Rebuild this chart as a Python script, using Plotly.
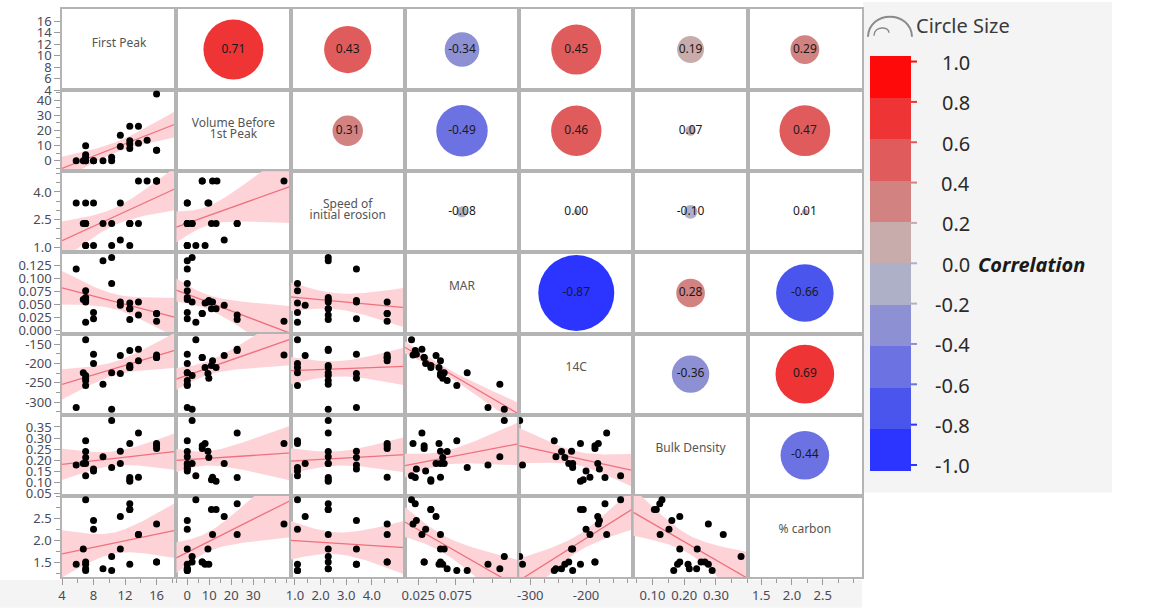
import numpy as np
import plotly.graph_objects as go
from plotly.subplots import make_subplots

# ---- data: one row per core sample --------------------------------------
first_peak = [5.8, 6.7, 7.0, 7.0, 7.0, 7.0, 7.0, 8.0, 8.0, 9.2, 10.3, 10.3,
              11.4, 11.4, 12.6, 12.6, 12.6, 12.6, 13.7, 13.7, 14.8, 16.0, 16.0, 16.0]
volume_before = [0.0, 0.0, 3.9, 2.2, 9.8, 0.0, 0.0, 0.0, 0.0, 0.0, 2.2, 0.0,
                 16.8, 9.4, 22.7, 13.1, 8.1, 11.0, 22.7, 11.5, 13.5, 44.0, 6.8, 6.8]
speed_erosion = [3.4, 2.3, 1.1, 2.3, 3.4, 2.3, 1.1, 3.4, 1.1, 2.3, 2.3, 1.1,
                 1.4, 3.4, 2.3, 2.3, 1.1, 2.3, 2.3, 4.6, 4.6, 4.6, 4.6, 4.6]
mar = [0.119, 0.060, 0.016, 0.055, 0.058, 0.064, 0.077, 0.0225, 0.035, 0.135, 0.141, 0.091,
       0.049, 0.055, 0.021, 0.042, 0.053, 0.042, 0.030, 0.055, np.nan, 0.018, 0.033, 0.033]
c14 = [-314, -224, -138, -231, -238, -244, -257, -176, -200, -254, -319, -224,
       -179, -226, -166, -210, -210, -205, -163, -193, np.nan, -178, -184, -184]
bulk_density = [0.179, 0.186, 0.130, 0.186, 0.212, 0.239, 0.288, 0.161, 0.152, 0.216, 0.379, 0.167,
                0.186, 0.241, 0.123, 0.106, 0.276, 0.112, 0.323, 0.124, np.nan, 0.276, 0.265, 0.253]
pct_carbon = [1.45, 1.80, 2.92, 1.50, 1.45, 1.35, 1.31, 2.45, 2.25, 1.35, 1.63, 1.31,
              2.54, 1.80, 2.83, 2.70, 1.45, 2.70, 2.13, 2.13, np.nan, 2.37, 1.50, 1.50]

variables = [["First Peak"], ["Volume Before", "1st Peak"], ["Speed of", "initial erosion"],
             ["MAR"], ["14C"], ["Bulk Density"], ["% carbon"]]
columns = [first_peak, volume_before, speed_erosion, mar, c14, bulk_density, pct_carbon]

# pairwise correlations shown above the diagonal (row by row)
corr_upper = [
    [0.71, 0.43, -0.34, 0.45, 0.19, 0.29],
    [0.31, -0.49, 0.46, 0.07, 0.47],
    [-0.08, 0.00, -0.10, 0.01],
    [-0.87, 0.28, -0.66],
    [-0.36, 0.69],
    [-0.44],
]

# ---- axis settings ----------------------------------------------------------
x_ranges = [[4.0, 18.5], [-5, 47], [0.83, 5.29], [0.007, 0.161],
            [-320, -115], [0.04, 0.40], [1.28, 3.14]]
y_ranges = [[4.0, 18.1], [-7, 46.5], [0.73, 5.12], [-0.006, 0.151],
            [-333, -122], [0.04, 0.405], [1.16, 3.01]]

x_tickvals = [[4, 8, 12, 16], [0, 10, 20, 30], [1, 2, 3, 4], [0.025, 0.075],
              [-300, -200], [0.1, 0.2, 0.3], [1.5, 2.0, 2.5]]
x_ticktext = [["4", "8", "12", "16"], ["0", "10", "20", "30"], ["1.0", "2.0", "3.0", "4.0"],
              ["0.025", "0.075"], ["-300", "-200"], ["0.10", "0.20", "0.30"], ["1.5", "2.0", "2.5"]]
x_minor = [2, 5, 0.5, 0.025, 25, 0.05, 0.25]

y_tickvals = [[4, 6, 8, 10, 12, 14, 16], [0, 10, 20, 30, 40], [1.0, 2.5, 4.0],
              [0, 0.025, 0.05, 0.075, 0.1, 0.125], [-300, -250, -200, -150],
              [0.05, 0.1, 0.15, 0.2, 0.25, 0.3, 0.35], [1.5, 2.0, 2.5]]
y_ticktext = [["4", "6", "8", "10", "12", "14", "16"], ["0", "10", "20", "30", "40"],
              ["1.0", "2.5", "4.0"], ["0.000", "0.025", "0.050", "0.075", "0.100", "0.125"],
              ["-300", "-250", "-200", "-150"],
              ["0.05", "0.10", "0.15", "0.20", "0.25", "0.30", "0.35"], ["1.5", "2.0", "2.5"]]
y_minor = [None, 5, 0.5, None, 25, None, 0.25]

# discrete correlation colour bins, from -1 to 1
bin_colors = ["#2b35ff", "#4a55ee", "#6d72e2", "#8d90d3", "#aeb0c8",
              "#c8acac", "#d38282", "#e05c5c", "#ee3434", "#ff0a0a"]
colorscale = []
for i, col in enumerate(bin_colors):
    colorscale.append([i / 10, col])
    colorscale.append([(i + 1) / 10, col])
legend_ticks = [1.0, 0.8, 0.6, 0.4, 0.2, 0.0, -0.2, -0.4, -0.6, -0.8, -1.0]

# circle diameter (px) against |r|
size_abs = [0.0, 0.08, 0.19, 0.30, 0.45, 0.70, 0.87, 1.0]
size_px = [5, 11, 27, 29, 50, 59, 76, 82]

FONT = "Noto Sans"
N = 7
W, H = 1150, 611
L, R, T, B = 62, 288, 7, 31
PW, PH = W - L - R, H - T - B
CELL_H = PH / N

# colour legend geometry (px)
BAR_X0, BAR_X1 = 870, 911
BAR_MID, BAR_HALF = 263.5, 203.5


def px_x(px):
    return (px - L) / PW


def px_y(py):
    return 1 - (py - T) / PH


def t975(df):
    z = 1.959964
    return z + (z ** 3 + z) / (4 * df) + (5 * z ** 5 + 16 * z ** 3 + 3 * z) / (96 * df ** 2)


fig = make_subplots(rows=N, cols=N, horizontal_spacing=0, vertical_spacing=0)

for r in range(N):
    for c in range(N):
        if r > c:
            x = np.asarray(columns[c], float)
            y = np.asarray(columns[r], float)
            ok = np.isfinite(x) & np.isfinite(y)
            x, y = x[ok], y[ok]
            n = len(x)
            b1, b0 = np.polyfit(x, y, 1)
            resid = y - (b0 + b1 * x)
            s = np.sqrt(np.sum(resid ** 2) / (n - 2))
            sxx = np.sum((x - x.mean()) ** 2)
            xs = np.linspace(x_ranges[c][0], x_ranges[c][1], 80)
            yh = b0 + b1 * xs
            half = t975(n - 2) * s * np.sqrt(1 / n + (xs - x.mean()) ** 2 / sxx)
            fig.add_trace(go.Scatter(
                x=np.concatenate([xs, xs[::-1]]),
                y=np.concatenate([yh + half, (yh - half)[::-1]]),
                fill="toself", fillcolor="#fdd3d8", line=dict(width=0),
                mode="lines", hoverinfo="skip", showlegend=False), row=r + 1, col=c + 1)
            fig.add_trace(go.Scatter(
                x=xs, y=yh, mode="lines", line=dict(color="#f0707c", width=1.3),
                hoverinfo="skip", showlegend=False), row=r + 1, col=c + 1)
            fig.add_trace(go.Scatter(
                x=x, y=y, mode="markers",
                marker=dict(color="black", size=7, line=dict(width=0)),
                showlegend=False), row=r + 1, col=c + 1)
        elif r < c:
            val = corr_upper[r][c - r - 1]
            fig.add_trace(go.Scatter(
                x=[0.5], y=[0.5], mode="markers+text",
                text=[f"{val:.2f}"], textposition="middle center",
                textfont=dict(family=FONT, size=12, color="#1a1a1a"),
                marker=dict(size=float(np.interp(abs(val), size_abs, size_px)),
                            color=[val], cmin=-1, cmax=1, colorscale=colorscale,
                            line=dict(width=0),
                            showscale=(r == 0 and c == 1),
                            colorbar=dict(
                                x=px_x(BAR_X0), xanchor="left", xpad=0,
                                y=px_y(BAR_MID), yanchor="middle", ypad=0,
                                lenmode="pixels", len=2 * BAR_HALF + 8,
                                thickness=BAR_X1 - BAR_X0,
                                outlinewidth=0, ticks="", showticklabels=False,
                            )),
                showlegend=False, hoverinfo="skip"), row=r + 1, col=c + 1)
        else:
            # diagonal: variable name, slightly above centre for one-line names
            lines = variables[r]
            y0, y1 = y_ranges[r]
            x0, x1 = x_ranges[c]
            per_px = (y1 - y0) / CELL_H
            if len(lines) == 1:
                ys = [y0 + (y1 - y0) / 2 + 6 * per_px]
            else:
                mid = y0 + (y1 - y0) / 2 + 1 * per_px
                ys = [mid + 5.5 * per_px, mid - 5.5 * per_px]
            fig.add_trace(go.Scatter(
                x=[(x0 + x1) / 2] * len(lines), y=ys, mode="text", text=lines,
                textposition="middle center",
                textfont=dict(family=FONT, size=12, color="#555555"),
                hoverinfo="skip", showlegend=False), row=r + 1, col=c + 1)

        # axes
        xkw = dict(showline=True, mirror=True, linecolor="#b4b4b4", linewidth=1.5,
                   showgrid=False, zeroline=False, fixedrange=True)
        ykw = dict(xkw)
        if r < c:
            xkw.update(range=[0, 1], showticklabels=False, ticks="")
            ykw.update(range=[0, 1], showticklabels=False, ticks="")
        else:
            xkw.update(range=x_ranges[c])
            ykw.update(range=y_ranges[r])
            if r == N - 1:
                xkw.update(tickmode="array", tickvals=x_tickvals[c], ticktext=x_ticktext[c],
                           ticks="outside", ticklen=6, tickcolor="#9a9a9a",
                           tickfont=dict(family=FONT, size=13, color="#4a4a58"),
                           minor=dict(tickmode="linear", tick0=0, dtick=x_minor[c],
                                      ticks="outside", ticklen=4, tickcolor="#9a9a9a"))
            else:
                xkw.update(showticklabels=False, ticks="")
            if c == 0:
                ykw.update(tickmode="array", tickvals=y_tickvals[r], ticktext=y_ticktext[r],
                           ticks="outside", ticklen=6, tickcolor="#9a9a9a",
                           tickfont=dict(family=FONT, size=13, color="#4a4a58"))
                if y_minor[r]:
                    ykw["minor"] = dict(tickmode="linear", tick0=0, dtick=y_minor[r],
                                        ticks="outside", ticklen=4, tickcolor="#9a9a9a")
            else:
                ykw.update(showticklabels=False, ticks="")
        fig.update_xaxes(xkw, row=r + 1, col=c + 1)
        fig.update_yaxes(ykw, row=r + 1, col=c + 1)

# panel backgrounds and legend header
shapes = [
    dict(type="rect", xref="paper", yref="paper", layer="below",
         x0=px_x(0), x1=px_x(862), y0=px_y(611), y1=px_y(583),
         fillcolor="#f4f4f4", line=dict(width=0)),
    dict(type="rect", xref="paper", yref="paper", layer="below",
         x0=px_x(863), x1=px_x(1112), y0=px_y(495), y1=px_y(0),
         fillcolor="#f4f4f4", line=dict(width=0)),
    dict(type="path", xref="paper", yref="paper",
         path=(f"M {px_x(868)},{px_y(35)} C {px_x(869)},{px_y(8)} "
               f"{px_x(911)},{px_y(8)} {px_x(912)},{px_y(35)}"),
         line=dict(color="#8a8a8a", width=2)),
    dict(type="path", xref="paper", yref="paper",
         path=(f"M {px_x(874)},{px_y(34)} C {px_x(874)},{px_y(24)} "
               f"{px_x(889)},{px_y(24)} {px_x(889)},{px_y(31)}"),
         line=dict(color="#8a8a8a", width=1.5)),
]
# colour legend tick marks and labels
for v in legend_ticks:
    py = BAR_MID - v * BAR_HALF
    k = min(int((v + 1) * 5), 9) if v < 0 else max(int(np.ceil((v + 1) * 5)) - 1, 0)
    shapes.append(dict(type="line", xref="paper", yref="paper",
                       x0=px_x(BAR_X1 - 1), x1=px_x(BAR_X1 + 6), y0=px_y(py), y1=px_y(py),
                       line=dict(color=bin_colors[k], width=2)))
    fig.add_annotation(x=px_x(972), y=px_y(py + 1), xref="paper", yref="paper",
                       xanchor="right", yanchor="middle", showarrow=False,
                       text=f"{v:.1f}", font=dict(family=FONT, size=20, color="#2a2a2a"))

fig.add_annotation(x=px_x(914), y=px_y(24), xref="paper", yref="paper",
                   xanchor="left", yanchor="middle", showarrow=False,
                   text="Circle Size", font=dict(family=FONT, size=20, color="#3a3a3a"))
fig.add_annotation(x=px_x(976), y=px_y(265), xref="paper", yref="paper",
                   xanchor="left", yanchor="middle", showarrow=False,
                   text="<b><i>Correlation</i></b>", font=dict(family=FONT, size=20, color="#1a1a1a"))

fig.update_layout(
    width=W, height=H, margin=dict(l=L, r=R, t=T, b=B),
    paper_bgcolor="white", plot_bgcolor="white",
    shapes=shapes, showlegend=False,
)

fig.write_html("out.html")
